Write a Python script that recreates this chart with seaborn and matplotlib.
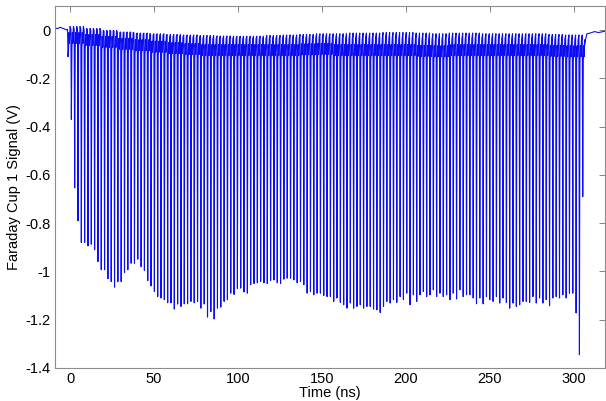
import numpy as np
import pandas as pd
import seaborn as sns
import matplotlib
matplotlib.use("Agg")
import matplotlib.pyplot as plt

# bunch train: first bunch time and spacing (ns)
first_bunch = -1.54
bunch_spacing = 1.979

# minimum of each bunch pulse (V), left to right
pulse_min = [
    -0.11, -0.37, -0.654, -0.79,
    -0.88, -0.88, -0.894, -0.887, -0.91, -0.959, -0.993, -0.993, -1.03, -1.042,
    -1.065, -1.042, -1.042, -1.005, -0.993, -0.966, -0.966, -0.949, -0.98, -0.995,
    -1.038, -1.06, -1.083, -1.104, -1.11, -1.117, -1.13, -1.13, -1.156, -1.135,
    -1.145, -1.134, -1.134, -1.124, -1.13, -1.124, -1.152, -1.135, -1.189, -1.166,
    -1.197, -1.152, -1.148, -1.124, -1.117, -1.09, -1.095, -1.07,
    -1.069, -1.085, -1.09, -1.055, -1.05, -1.047, -1.041, -1.047, -1.05, -1.037,
    -1.035, -1.047, -1.05, -1.032, -1.028, -1.028, -1.035, -1.047, -1.041, -1.055,
    -1.09, -1.083, -1.097, -1.09, -1.09, -1.1, -1.104, -1.104, -1.124, -1.11,
    -1.128, -1.138, -1.152, -1.131, -1.152, -1.145, -1.138, -1.152, -1.145, -1.145,
    -1.156, -1.159, -1.17, -1.145, -1.124, -1.131, -1.117, -1.128, -1.104, -1.117,
    -1.09,
    -1.138, -1.097, -1.124, -1.097, -1.083, -1.104, -1.097, -1.076, -1.104, -1.09,
    -1.104, -1.097, -1.117, -1.09, -1.114, -1.076, -1.104, -1.097, -1.097, -1.11,
    -1.134, -1.11, -1.134, -1.104, -1.117, -1.124, -1.104, -1.131, -1.11, -1.128,
    -1.152, -1.131, -1.145, -1.138, -1.124, -1.124, -1.128, -1.104, -1.131, -1.11,
    -1.131, -1.117, -1.142, -1.11, -1.104, -1.11, -1.097, -1.11, -1.09, -1.09,
    -1.172, -1.345,
    -0.69,
]

# crest level between pulses and droop of the ringing, per block of 5 bunches (V)
crest = [0.004, 0.0, -0.004, -0.008, -0.012, -0.015, -0.018, -0.02,
         -0.022, -0.024, -0.025, -0.025, -0.022, -0.02, -0.018, -0.015,
         -0.015, -0.012, -0.012, -0.01, -0.01, -0.012, -0.015, -0.012,
         -0.012, -0.015, -0.015, -0.015, -0.015, -0.018, -0.02, -0.02]
ring_shift = [0.05, 0.042, 0.034, 0.026, 0.02, 0.014, 0.008, 0.004,
              0.0, 0.0, 0.0, 0.0, 0.0, 0.0, 0.003, 0.005,
              0.0, 0.0, 0.0, 0.0, 0.0, -0.003, -0.005, 0.0,
              0.0, 0.0, 0.0, 0.0, 0.0, -0.003, -0.005, -0.005]

# ringing after each pulse: time after bunch (ns) and level (V)
ring_offsets = [0.0, 0.3, 0.62, 0.9, 1.15, 1.5]
ring_levels = [None, None, -0.125, -0.06, -0.105, -0.035]

# signal before the train and after it
pre_time = [-9.0, -7.5, -6.0, -4.5, -3.0, -1.8]
pre_volt = [0.01, 0.006, 0.012, 0.008, 0.004, 0.0]
post_time = [306.0, 306.8, 308.0, 310.0, 312.5, 315.0, 319.0]
post_volt = [-0.1, -0.05, -0.015, -0.012, -0.006, -0.01, -0.004]

times = list(pre_time)
volts = list(pre_volt)
for i, m in enumerate(pulse_min):
    t0 = first_bunch + bunch_spacing * i
    blk = i // 5
    for k, (off, lev) in enumerate(zip(ring_offsets, ring_levels)):
        times.append(t0 + off)
        if k == 0:
            volts.append(crest[blk])
        elif k == 1:
            volts.append(m)
        else:
            volts.append(lev + ring_shift[blk])
times += post_time
volts += post_volt

trace = pd.DataFrame({"time": times, "signal": volts})

sns.set_theme(style="white")
plt.rcParams["font.family"] = ["Liberation Sans", "DejaVu Sans"]

fig = plt.figure(figsize=(6.06, 4.01), dpi=100)
ax = fig.add_axes([0.0908, 0.0823, 0.9082, 0.9027])
sns.lineplot(data=trace, x="time", y="signal", sort=False, estimator=None,
             color=(0.05, 0.05, 0.95), linewidth=0.8, ax=ax)

ax.set_xlim(-9, 319)
ax.set_ylim(-1.4, 0.1)
ax.set_xticks([0, 50, 100, 150, 200, 250, 300])
ax.set_yticks([0, -0.2, -0.4, -0.6, -0.8, -1, -1.2, -1.4])
ax.set_yticklabels(["0", "-0.2", "-0.4", "-0.6", "-0.8", "-1", "-1.2", "-1.4"])
ax.tick_params(direction="in", length=4, width=0.6, color="0.45",
               top=True, right=True, labelsize=10.5, labelcolor="black", pad=3)
for spine in ax.spines.values():
    spine.set_color("0.55")
    spine.set_linewidth(0.8)

ax.set_xlabel("Time (ns)", fontsize=10.5, color="black", labelpad=0)
ax.set_ylabel("Faraday Cup 1 Signal (V)", fontsize=10.5, color="black", labelpad=3)

fig.savefig("out.png", dpi=100)
